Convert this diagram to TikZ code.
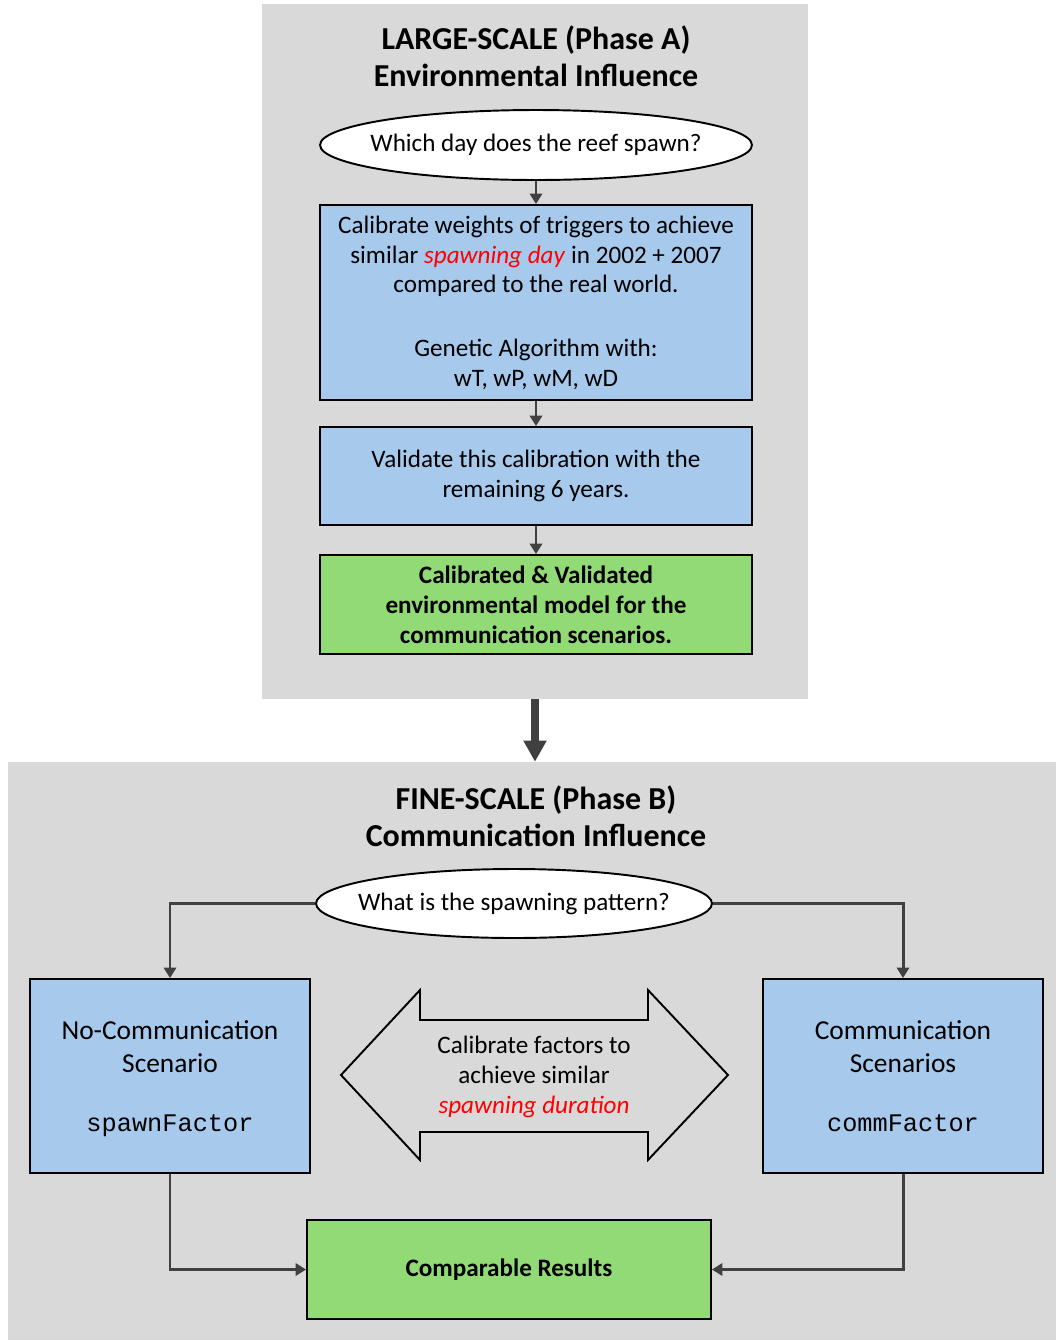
\documentclass[tikz,border=0pt]{standalone}
\usepackage{fontspec}
\setmainfont{Carlito}
\setmonofont{Liberation Mono}
\usetikzlibrary{positioning,shapes.geometric,arrows.meta}
\definecolor{panelgrey}{RGB}{217,217,217}
\definecolor{boxblue}{RGB}{166,201,236}
\definecolor{boxgreen}{RGB}{145,218,118}
\definecolor{linegrey}{RGB}{64,64,64}
\definecolor{hlred}{RGB}{255,0,0}
\newcommand{\bodyfont}{\fontsize{14.3}{17}\selectfont}
\newcommand{\scenfont}{\fontsize{15.6}{18.7}\selectfont}
\newcommand{\titlefont}{\fontsize{18.2}{21}\selectfont\bfseries}
\newcommand{\factorname}[1]{\raisebox{0pt}[\height][0pt]{\fontsize{14.4}{18}\selectfont\texttt{#1}}}
\tikzset{
  panel/.style={fill=panelgrey, rectangle, inner sep=0pt},
  question/.style={draw, ellipse, fill=white, line width=1.1pt, inner sep=0pt},
  stepbox/.style={draw, rectangle, fill=boxblue, line width=1.1pt, align=center, font=\bodyfont},
  scenbox/.style={draw, rectangle, fill=boxblue, line width=1.1pt, align=center, font=\scenfont,
    minimum width=5.6cm, minimum height=3.88cm},
  resultbox/.style={draw, rectangle, fill=boxgreen, line width=1.1pt, align=center, font=\bodyfont\bfseries},
  flow/.style={draw=linegrey, line width=1.7pt, -{Triangle[length=6pt,width=7pt]}},
  bigflow/.style={draw=linegrey, line width=4.5pt, -{Triangle[length=12pt,width=12.5pt]}}
}
\begin{document}
\begin{tikzpicture}[x=0.02cm, y=-0.02cm]
    \useasboundingbox (0,0) rectangle (1056,1340);

    % panels
    \node[panel, minimum width=10.92cm, minimum height=13.9cm] at (535,351.5) (phaseA) {};
    \node[panel, minimum width=20.96cm, minimum height=11.56cm] at (532,1051) (phaseB) {};

    % phase A
    \node[font=\titlefont, align=center] at (536,56) (titleA) {LARGE-SCALE (Phase A)\\ Environmental Influence};
    \node[question, minimum width=8.64cm, minimum height=1.4cm,
      label={[font=\bodyfont]center:Which day does the reef spawn?}] at (536,145) (whichday) {};
    \node[stepbox, minimum width=8.64cm, minimum height=3.9cm] at (536,302.5) (calibrate) {Calibrate weights of triggers to achieve\\ similar \textcolor{hlred}{\textit{spawning day}} in 2002 + 2007\\ compared to the real world.\\[19pt] Genetic Algorithm with:\\ wT, wP, wM, wD};
    \node[stepbox, minimum width=8.64cm, minimum height=1.96cm] at (536,476) (validate) {Validate this calibration with the\\ remaining 6 years.};
    \node[resultbox, minimum width=8.64cm, minimum height=1.98cm] at (536,604.5) (envmodel) {Calibrated \& Validated\\ environmental model for the\\ communication scenarios.};

    \draw[flow] (whichday) -- (calibrate);
    \draw[flow] (calibrate) -- (validate);
    \draw[flow] (validate) -- (envmodel);

    \draw[bigflow] (phaseA.south) -- (phaseA.south |- phaseB.north);

    % phase B
    \node[font=\titlefont, align=center] at (536,816) (titleB) {FINE-SCALE (Phase B)\\ Communication Influence};
    \node[question, minimum width=7.92cm, minimum height=1.38cm,
      label={[font=\bodyfont]center:What is the spawning pattern?}] at (514,903.5) (pattern) {};
    \node[scenbox] at (170,1076) (nocomm) {No-Communication\\ Scenario\\[15pt] \factorname{spawnFactor}};
    \node[scenbox] at (903,1076) (comm) {Communication\\ Scenarios\\[15pt] \factorname{commFactor}};
    \node[resultbox, minimum width=8.08cm, minimum height=1.98cm] at (509,1269.5) (results) {Comparable Results};

    \draw[line width=1.1pt, fill=panelgrey] (341,1075) -- (420,990) -- (420,1020) -- (648,1020) -- (648,990) -- (728,1075)
      -- (648,1160) -- (648,1132) -- (420,1132) -- (420,1160) -- cycle;
    \node[font=\bodyfont, align=center] at (534,1077) (calibfactors) {Calibrate factors to\\ achieve similar\\ \textcolor{hlred}{\textit{spawning duration}}};

    \draw[flow] (pattern.west) -| (nocomm.north);
    \draw[flow] (pattern.east) -| (comm.north);
    \draw[flow] (nocomm.south) |- (results.west);
    \draw[flow] (comm.south) |- (results.east);
\end{tikzpicture}
\end{document}
